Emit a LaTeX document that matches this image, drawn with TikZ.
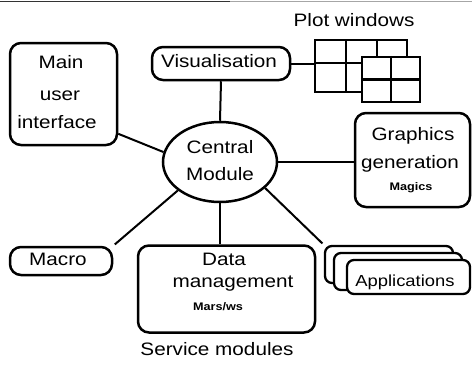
\documentclass[tikz,border=0pt]{standalone}
\usepackage{fontspec}
\setmainfont{Liberation Sans}[FakeStretch=1.15]
\usetikzlibrary{shapes.geometric}
\begin{document}
\begin{tikzpicture}[x=1pt,y=-1pt,
  box/.style={draw, line width=2.5pt, rounded corners=11pt, fill=white, inner sep=0pt},
  appbox/.style={draw, line width=2.3pt, rounded corners=7pt, fill=white, inner sep=0pt},
  conn/.style={line width=2pt},
  grid/.style={line width=2.2pt},
  lbl/.style={anchor=base, inner sep=0pt, font=\fontsize{18}{20}\selectfont},
  small/.style={anchor=base, inner sep=0pt, font=\fontsize{11}{12}\selectfont\bfseries}]
\useasboundingbox (0,0) rectangle (472,368);
% scanned top edge
\coordinate (tl) at (0,1);
\coordinate (tm) at (230,1);
\coordinate (tr) at (472,1);
\draw[line width=0.8pt, black!80] (tl) -- (tm);
\draw[line width=0.8pt, black!35] (tm) -- (tr);

% plot windows
\node[lbl] (plott) at (354,26) {Plot windows};
\node[draw, grid, fill=white, minimum width=92pt, minimum height=52pt, inner sep=0pt] (pw1) at (361,66) {};
\coordinate (pa1) at (346,40); \coordinate (pa2) at (346,92);
\coordinate (pb1) at (377,40); \coordinate (pb2) at (377,92);
\coordinate (pc1) at (315,63); \coordinate (pc2) at (407,63);
\draw[grid] (pa1) -- (pa2) (pb1) -- (pb2) (pc1) -- (pc2);
\node[draw, grid, fill=white, minimum width=58pt, minimum height=45pt, inner sep=0pt] (pw2) at (391,79.5) {};
\draw[grid] (pw2.north) -- (pw2.south) (pw2.west) -- (pw2.east);

% boxes
\node[box, minimum width=107pt, minimum height=102pt] (main) at (63.5,94) {};
\node[box, minimum width=138pt, minimum height=33pt] (vis) at (221,63.5) {};
\node[draw, ellipse, line width=2.5pt, fill=white, minimum width=114pt, minimum height=80pt, inner sep=0pt] (cm) at (220,162) {};
\node[box, minimum width=115pt, minimum height=94pt] (gfx) at (412.5,160) {};
\node[box, minimum width=102pt, minimum height=28pt] (macro) at (61,261) {};
\node[box, minimum width=177pt, minimum height=87pt] (data) at (226.5,289) {};
\node[appbox, minimum width=128pt, minimum height=37pt] (app1) at (389,264.5) {};
\node[appbox, minimum width=128pt, minimum height=37pt] (app2) at (398,271.5) {};
\node[appbox, minimum width=123pt, minimum height=34pt] (app3) at (408.5,277) {};

% connectors
\draw[conn] (vis.east) -- (vis.east -| pw1.west);
\draw[conn] (vis.south) -- (cm.north);
\draw[conn] (main.-36) -- (cm.170);
\draw[conn] (cm.east) -- (cm.east -| gfx.west);
\draw[conn, shorten <=2pt] (macro.north east) -- (cm.214);
\draw[conn] (cm.south) -- (cm.south |- data.north);
\draw[conn, shorten >=2pt] (cm.-30) -- (app1.north west);

% texts
\node[lbl] (t1) at (61,68) {Main};
\node[lbl] (t2) at (60,100) {user};
\node[lbl] (t3) at (57,128) {interface};
\node[lbl] (t4) at (219,67) {Visualisation};
\node[lbl] (t5) at (220,153) {Central};
\node[lbl] (t6) at (220,180) {Module};
\node[lbl] (t7) at (413,140) {Graphics};
\node[lbl] (t8) at (410,168) {generation};
\node[small] (t9) at (411,190) {Magics};
\node[lbl] (t10) at (58,265) {Macro};
\node[lbl] (t11) at (224,265) {Data};
\node[lbl] (t12) at (233,287) {management};
\node[small] (t13) at (218,310) {Mars/ws};
\node[lbl, font=\fontsize{16}{18}\selectfont] (t14) at (405,286) {Applications};
\node[lbl] (t15) at (217,355) {Service modules};
\end{tikzpicture}
\end{document}
